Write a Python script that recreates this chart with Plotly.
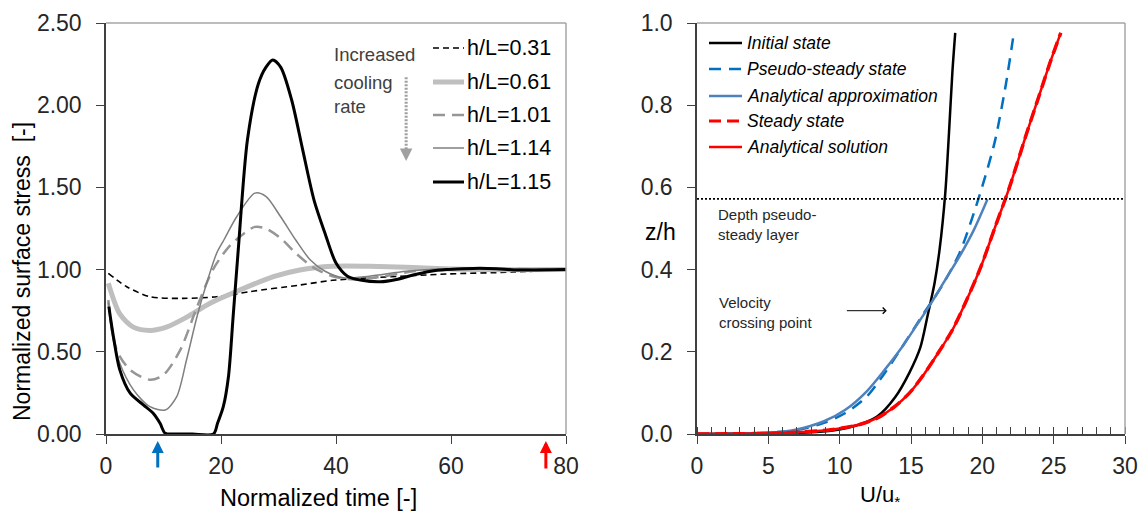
import plotly.graph_objects as go

# ---------------- Left panel data ----------------
t_031 = [0.4, 3.6, 7.65, 13.4, 19.25, 25, 33.7, 39.4, 47.7, 59.2, 70.9, 80]
s_031 = [0.977, 0.896, 0.835, 0.825, 0.835, 0.866, 0.906, 0.935, 0.953, 0.973, 0.985, 1.0]

t_061 = [0.4, 2.4, 4.75, 7.65, 10.5, 14, 18.1, 23.3, 29.1, 33.7, 39.4, 45.8, 52.2, 58.7, 65, 80]
s_061 = [0.917, 0.73, 0.65, 0.63, 0.65, 0.71, 0.795, 0.876, 0.957, 0.998, 1.02, 1.02, 1.015, 1.005, 1.0, 1.0]

t_101 = [0.4, 1.86, 4.2, 7.65, 10.0, 12.9, 15.8, 18.6, 21.4, 24, 25.9, 27.8, 30.4, 33, 36.2, 39.4, 43.2, 48.4, 53.5, 58.7, 65, 80]
s_101 = [0.815, 0.51, 0.39, 0.33, 0.36, 0.51, 0.77, 1.0, 1.14, 1.22, 1.26, 1.25, 1.19, 1.10, 1.01, 0.96, 0.94, 0.96, 0.99, 1.0, 1.005, 1.0]

t_114 = [0.4, 1.0, 2.4, 4.75, 7.65, 10.3, 12.3, 14.0, 15.8, 17.5, 19.25, 20.5, 22.7, 25.9, 27.8, 30.4, 33, 35.5, 38.1, 41.3, 45.8, 52.2, 58.7, 65, 80]
s_114 = [0.80, 0.62, 0.43, 0.27, 0.166, 0.146, 0.227, 0.45, 0.71, 0.917, 1.10, 1.18, 1.32, 1.465, 1.445, 1.32, 1.18, 1.06, 0.99, 0.95, 0.96, 0.99, 1.005, 1.005, 1.0]

t_115 = [0.5, 1.3, 2.4, 4.2, 6.5, 8.2, 9.4, 10.3, 12, 15, 18.7, 19.4, 20.4, 21.3, 22.1, 23.0, 24.6, 26.5, 27.8, 29.0, 30.4, 32.3, 34.2, 36.2, 38.1, 40.0, 42, 44.5, 47.7, 50.5, 53.4, 56.5, 59.2, 62, 65, 68, 70.9, 75, 80]
s_115 = [0.775, 0.59, 0.39, 0.248, 0.177, 0.126, 0.065, 0.004, 0, 0, 0, 0.065, 0.166, 0.35, 0.71, 1.12, 1.79, 2.13, 2.23, 2.275, 2.23, 2.03, 1.73, 1.42, 1.22, 1.04, 0.96, 0.935, 0.926, 0.94, 0.967, 0.99, 1.0, 1.005, 1.008, 1.005, 0.998, 0.998, 1.0]

left_labels = ["h/L=0.31", "h/L=0.61", "h/L=1.01", "h/L=1.14", "h/L=1.15"]

# ---------------- Right panel data ----------------
u_init = [0, 4, 6.9, 9.4, 11.4, 12.65, 13.9, 14.9, 15.65, 16.15, 16.65, 17.0, 17.4, 17.66, 17.9, 18.1]
z_init = [0, 0.001, 0.0025, 0.008, 0.023, 0.043, 0.09, 0.15, 0.21, 0.286, 0.367, 0.448, 0.585, 0.731, 0.88, 0.976]

u_pseudo = [0, 4.4, 6.9, 8.9, 10.4, 11.9, 13.15, 14.4, 15.9, 17.15, 18.4, 19.4, 20.2, 20.9, 21.66, 22.2]
z_pseudo = [0, 0.0025, 0.009, 0.027, 0.051, 0.091, 0.148, 0.213, 0.294, 0.359, 0.44, 0.537, 0.626, 0.715, 0.853, 0.974]

u_approx = [0, 5, 6.9, 8.9, 10.4, 11.9, 13.15, 14.4, 15.65, 16.4, 17.4, 18.4, 19.4, 20.36]
z_approx = [0, 0.003, 0.0105, 0.031, 0.059, 0.104, 0.156, 0.213, 0.278, 0.318, 0.375, 0.432, 0.496, 0.571]

u_steady = [0, 4, 6.9, 9.4, 11.4, 12.65, 13.9, 14.9, 15.9, 16.9, 17.9, 18.9, 19.9, 20.9, 21.9, 23.1, 23.95, 24.8, 25.5]
z_steady = [0, 0.001, 0.004, 0.0105, 0.023, 0.039, 0.068, 0.100, 0.145, 0.197, 0.253, 0.326, 0.407, 0.504, 0.60, 0.731, 0.82, 0.909, 0.976]

u_anal = u_steady
z_anal = z_steady

right_labels = ["Initial state", "Pseudo-steady state", "Analytical approximation", "Steady state", "Analytical solution"]
depth_layer = 0.572

W, H = 1141, 515
def px(x):
    return x / W
def py(y):
    return (H - y) / H

fig = go.Figure()

left_styles = [
    (t_031, s_031, dict(color="#000000", width=1.6, dash="6px,4px")),
    (t_061, s_061, dict(color="#BFBFBF", width=5)),
    (t_101, s_101, dict(color="#969696", width=2.5, dash="12px,7px")),
    (t_114, s_114, dict(color="#7F7F7F", width=1.5)),
    (t_115, s_115, dict(color="#000000", width=3)),
]
for (tx, sy, ln), name in zip(left_styles, left_labels):
    ln = dict(ln, shape="spline", smoothing=0.8)
    fig.add_trace(go.Scatter(x=tx, y=sy, mode="lines", line=ln, name=name,
                             showlegend=False, xaxis="x", yaxis="y"))

right_styles = [
    (u_init, z_init, dict(color="#000000", width=2.5)),
    (u_pseudo, z_pseudo, dict(color="#0070C0", width=2.5, dash="12px,8px")),
    (u_approx, z_approx, dict(color="#4F81BD", width=2.5)),
    (u_steady, z_steady, dict(color="#FF0000", width=3.5, dash="12px,6px")),
    (u_anal, z_anal, dict(color="#FF0000", width=2.5)),
]
for (ux, zy, ln), name in zip(right_styles, right_labels):
    ln = dict(ln, shape="spline", smoothing=0.8)
    fig.add_trace(go.Scatter(x=ux, y=zy, mode="lines", line=ln, name=name,
                             showlegend=False, xaxis="x2", yaxis="y2"))

# dotted depth line
fig.add_trace(go.Scatter(x=[0, 30], y=[depth_layer, depth_layer], mode="lines",
                         line=dict(color="#000000", width=1.8, dash="2px,2px"),
                         showlegend=False, xaxis="x2", yaxis="y2"))

axis_common = dict(showgrid=False, zeroline=False, showline=True, linecolor="#404040",
                   linewidth=1.5, ticks="outside", ticklen=8, tickcolor="#404040",
                   tickwidth=1.2, tickfont=dict(size=23, color="#262626"), automargin=False)

fig.update_layout(
    width=W, height=H, margin=dict(l=0, r=0, t=0, b=0),
    paper_bgcolor="white", plot_bgcolor="white",
    font=dict(family="Liberation Sans, Arial, sans-serif", color="#262626"),
    xaxis=dict(axis_common, domain=[px(106), px(566)], range=[0, 80], dtick=20,
               anchor="y", ticklabelstandoff=3),
    yaxis=dict(axis_common, domain=[py(434), py(23)], range=[0, 2.5], dtick=0.5,
               tickformat=".2f", anchor="x", ticklabelstandoff=10),
    xaxis2=dict(axis_common, domain=[px(697), px(1125)], range=[0, 30], dtick=5,
                anchor="y2", ticklabelstandoff=3,
                minor=dict(dtick=1, ticks="inside", ticklen=7, tickcolor="#404040", tickwidth=1.2)),
    yaxis2=dict(axis_common, domain=[py(434), py(23)], range=[0, 1.0], dtick=0.2,
                tickformat=".1f", anchor="x2", ticklabelstandoff=10),
)

shapes = []
# top & right light border for each plot
for xr, yr in (("x domain", "y domain"), ("x2 domain", "y2 domain")):
    shapes.append(dict(type="line", xref=xr, yref=yr, x0=0, x1=1, y0=1, y1=1,
                       line=dict(color="#A6A6A6", width=1.5)))
    shapes.append(dict(type="line", xref=xr, yref=yr, x0=1, x1=1, y0=0, y1=1,
                       line=dict(color="#A6A6A6", width=1.5)))

# left legend samples
left_rows = [48, 82, 115, 148, 182]
for (tx, sy, ln), yrow in zip(left_styles, left_rows):
    shapes.append(dict(type="line", xref="paper", yref="paper", x0=px(433), x1=px(464),
                       y0=py(yrow), y1=py(yrow), line=ln))
# right legend samples
right_rows = [43, 69, 96, 121, 147]
for (ux, zy, ln), yrow in zip(right_styles, right_rows):
    l2 = dict(ln)
    l2["width"] = min(l2["width"], 3)
    shapes.append(dict(type="line", xref="paper", yref="paper", x0=px(709), x1=px(742),
                       y0=py(yrow), y1=py(yrow), line=l2))

# dotted "increased cooling rate" arrow shaft
shapes.append(dict(type="line", xref="x", yref="y", x0=52.2, x1=52.2, y0=2.17, y1=1.72,
                   line=dict(color="#A0A0A0", width=3, dash="2px,1.5px")))
fig.update_layout(shapes=shapes)

ann = []
for lab, yrow in zip(left_labels, left_rows):
    ann.append(dict(text=lab, x=px(465), y=py(yrow), xref="paper", yref="paper",
                    xanchor="left", yanchor="middle", showarrow=False,
                    font=dict(size=21.5, color="#000000")))
for lab, yrow in zip(right_labels, right_rows):
    ann.append(dict(text="<i>" + lab + "</i>", x=px(745), y=py(yrow), xref="paper", yref="paper",
                    xanchor="left", yanchor="middle", showarrow=False,
                    font=dict(size=17.5, color="#000000")))
for lab, yrow in zip(["Increased", "cooling", "rate"], [55, 82, 107]):
    ann.append(dict(text=lab, x=px(332), y=py(yrow), xref="paper", yref="paper",
                    xanchor="left", yanchor="middle", showarrow=False,
                    font=dict(size=18.5, color="#404040")))
# gray arrowhead
ann.append(dict(text="", x=52.2, y=1.66, xref="x", yref="y", ax=52.2, ay=1.74,
                axref="x", ayref="y", showarrow=True, arrowhead=2, arrowsize=1,
                arrowwidth=2.5, arrowcolor="#A0A0A0"))
# axis titles
ann.append(dict(text="Normalized surface stress  [-]", x=px(22), y=py(272), xref="paper",
                yref="paper", textangle=-90, showarrow=False, font=dict(size=23, color="#000000"),
                xanchor="center", yanchor="middle"))
ann.append(dict(text="Normalized time [-]", x=px(318), y=py(498), xref="paper", yref="paper",
                showarrow=False, font=dict(size=23.5, color="#000000"), xanchor="center", yanchor="middle"))
ann.append(dict(text="z/h", x=px(660), y=py(232), xref="paper", yref="paper",
                showarrow=False, font=dict(size=23, color="#000000"), xanchor="center", yanchor="middle"))
ann.append(dict(text="U/u<sub>*</sub>", x=px(880), y=py(496), xref="paper", yref="paper",
                showarrow=False, font=dict(size=22, color="#000000"), xanchor="center", yanchor="middle"))
# right panel notes
ann.append(dict(text="Depth pseudo-<br>steady layer", x=px(716), y=py(224), xref="paper", yref="paper",
                xanchor="left", yanchor="middle", align="left", showarrow=False,
                font=dict(size=15, color="#262626")))
ann.append(dict(text="Velocity<br>crossing point", x=px(717), y=py(312), xref="paper", yref="paper",
                xanchor="left", yanchor="middle", align="left", showarrow=False,
                font=dict(size=15, color="#262626")))
ann.append(dict(text="", x=13.3, y=0.30, xref="x2", yref="y2", ax=10.4, ay=0.30,
                axref="x2", ayref="y2", showarrow=True, arrowhead=4, arrowsize=1.2,
                arrowwidth=1, arrowcolor="#000000"))
# blue and red arrows below time axis
ann.append(dict(text="", x=9.0, y=py(441), xref="x", yref="paper", ax=0, ay=28,
                showarrow=True, arrowhead=2, arrowsize=0.8, arrowwidth=3, arrowcolor="#0070C0"))
ann.append(dict(text="", x=76.5, y=py(441), xref="x", yref="paper", ax=0, ay=29,
                showarrow=True, arrowhead=2, arrowsize=0.8, arrowwidth=3, arrowcolor="#FF0000"))
fig.update_layout(annotations=ann)

fig.write_html("out.html")
